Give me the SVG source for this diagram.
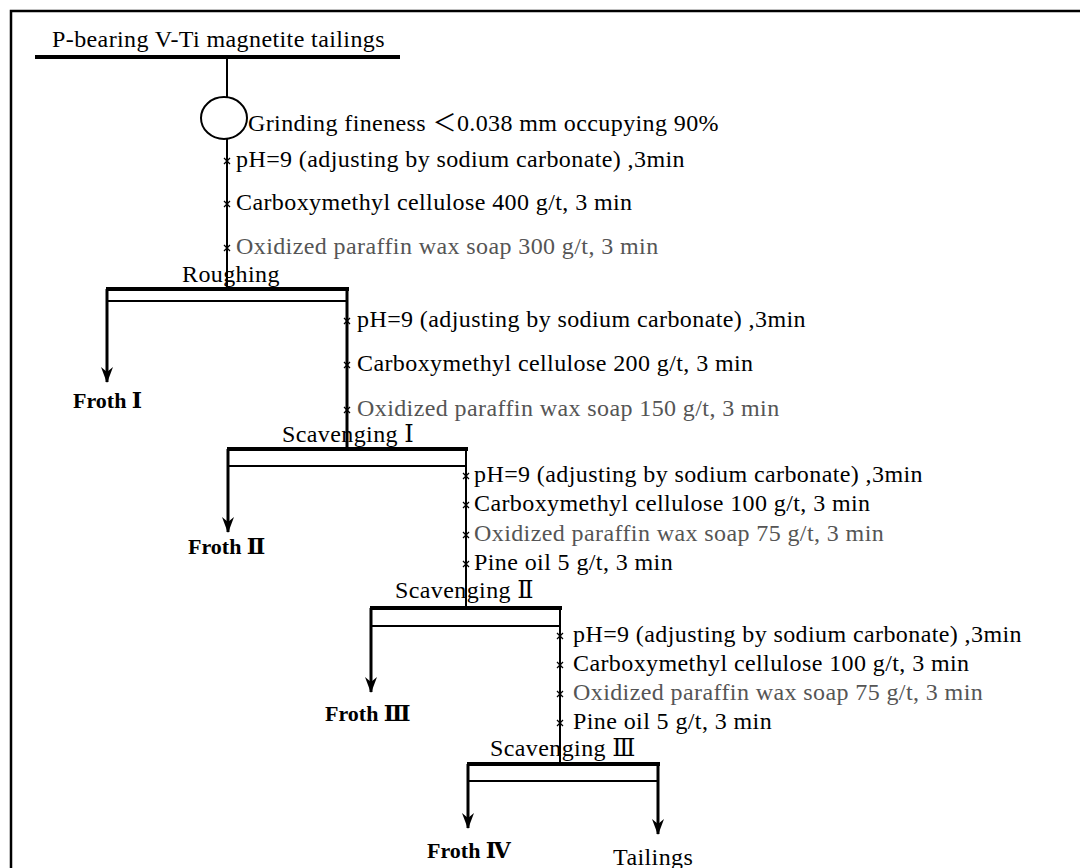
<svg xmlns="http://www.w3.org/2000/svg" width="1080" height="868" viewBox="0 0 1080 868">
<style>
text{font-family:"Liberation Serif","DejaVu Serif","Noto Sans CJK SC",serif;font-size:24px;letter-spacing:0.4px;fill:#000}
.g{fill:#555}
.b{font-weight:bold;font-size:22px;letter-spacing:0}
.thin{stroke:#000;stroke-width:2;fill:none}
.thick{stroke:#000;stroke-width:4;fill:none}
.shaft{stroke:#000;stroke-width:3;fill:none}
.x{stroke:#000;stroke-width:1.3;fill:none}
</style>
<defs>
<marker id="ah" markerWidth="12" markerHeight="16" refX="6" refY="15" orient="0" markerUnits="userSpaceOnUse">
<path d="M0,0 L6,16 L12,0 L6,5 z" fill="#000"/>
</marker>
</defs>
<rect width="1080" height="868" fill="#fff"/>
<path d="M11,868 V11 H1080" stroke="#000" stroke-width="2.5" fill="none"/>

<g id="feed">
<text x="52" y="47">P-bearing V-Ti magnetite tailings</text>
<line class="thick" x1="35" y1="57" x2="400" y2="57"/>
</g>
<g id="grinding">
<ellipse cx="224" cy="118" rx="23" ry="21" class="thin"/>
<text x="248" y="131">Grinding fineness  ＜0.038 mm occupying 90%</text>
</g>
<g id="reagents-roughing">
<text x="236" y="167">pH=9 (adjusting by sodium carbonate) ,3min</text>
<text x="236" y="210">Carboxymethyl cellulose 400 g/t, 3 min</text>
<text x="236" y="254" class="g">Oxidized paraffin wax soap 300 g/t, 3 min</text>
</g>
<g id="roughing">
<text x="182" y="282">Roughing</text>
<line class="thick" x1="106" y1="289" x2="349" y2="289"/>
<line class="thin" x1="107" y1="301" x2="347" y2="301"/>
</g>
<g id="froth1"><text x="73" y="408" class="b">Froth Ⅰ</text></g>
<g id="reagents-scav1">
<text x="357" y="327">pH=9 (adjusting by sodium carbonate) ,3min</text>
<text x="357" y="371">Carboxymethyl cellulose 200 g/t, 3 min</text>
<text x="357" y="416" class="g">Oxidized paraffin wax soap 150 g/t, 3 min</text>
</g>
<g id="scavenging1">
<text x="282" y="442">Scavenging Ⅰ</text>
<line class="thick" x1="227" y1="449" x2="468" y2="449"/>
<line class="thin" x1="228" y1="466" x2="466" y2="466"/>
</g>
<g id="froth2"><text x="188" y="554" class="b">Froth Ⅱ</text></g>
<g id="reagents-scav2">
<text x="474" y="482">pH=9 (adjusting by sodium carbonate) ,3min</text>
<text x="474" y="511">Carboxymethyl cellulose 100 g/t, 3 min</text>
<text x="474" y="541" class="g">Oxidized paraffin wax soap 75 g/t, 3 min</text>
<text x="474" y="570">Pine oil 5 g/t, 3 min</text>
</g>
<g id="scavenging2">
<text x="395" y="598">Scavenging  Ⅱ</text>
<line class="thick" x1="370" y1="608" x2="562" y2="608"/>
<line class="thin" x1="371" y1="626" x2="560" y2="626"/>
</g>
<g id="froth3"><text x="325" y="721" class="b">Froth  Ⅲ</text></g>
<g id="reagents-scav3">
<text x="573" y="642">pH=9 (adjusting by sodium carbonate) ,3min</text>
<text x="573" y="671">Carboxymethyl cellulose 100 g/t, 3 min</text>
<text x="573" y="700" class="g">Oxidized paraffin wax soap 75 g/t, 3 min</text>
<text x="573" y="729">Pine oil 5 g/t, 3 min</text>
</g>
<g id="scavenging3">
<text x="490" y="756">Scavenging  Ⅲ</text>
<line class="thick" x1="467" y1="764" x2="660" y2="764"/>
<line class="thin" x1="468" y1="781" x2="658" y2="781"/>
</g>
<g id="froth4"><text x="427" y="858" class="b">Froth  Ⅳ</text></g>
<g id="tailings"><text x="613" y="865">Tailings</text></g>

<g id="connectors">
<line class="thin" x1="227" y1="59" x2="227" y2="97"/>
<line class="thin" x1="227" y1="139" x2="227" y2="289"/>
<path class="shaft" d="M107,289 V382" marker-end="url(#ah)"/>
<line class="shaft" x1="347" y1="289" x2="347" y2="449"/>
<path class="shaft" d="M228,449 V532" marker-end="url(#ah)"/>
<line class="thin" x1="466" y1="449" x2="466" y2="608"/>
<path class="shaft" d="M371,608 V692" marker-end="url(#ah)"/>
<line class="thin" x1="560" y1="608" x2="560" y2="764"/>
<path class="shaft" d="M468,764 V828" marker-end="url(#ah)"/>
<path class="shaft" d="M658,764 V834" marker-end="url(#ah)"/>
<g class="x">
<path d="M224,158 l6,6 m0,-6 l-6,6"/>
<path d="M224,201 l6,6 m0,-6 l-6,6"/>
<path d="M224,245 l6,6 m0,-6 l-6,6"/>
<path d="M344,318 l6,6 m0,-6 l-6,6"/>
<path d="M344,362 l6,6 m0,-6 l-6,6"/>
<path d="M344,407 l6,6 m0,-6 l-6,6"/>
<path d="M463,473 l6,6 m0,-6 l-6,6"/>
<path d="M463,502 l6,6 m0,-6 l-6,6"/>
<path d="M463,532 l6,6 m0,-6 l-6,6"/>
<path d="M463,561 l6,6 m0,-6 l-6,6"/>
<path d="M557,633 l6,6 m0,-6 l-6,6"/>
<path d="M557,662 l6,6 m0,-6 l-6,6"/>
<path d="M557,691 l6,6 m0,-6 l-6,6"/>
<path d="M557,720 l6,6 m0,-6 l-6,6"/>
</g>
</g>
</svg>
